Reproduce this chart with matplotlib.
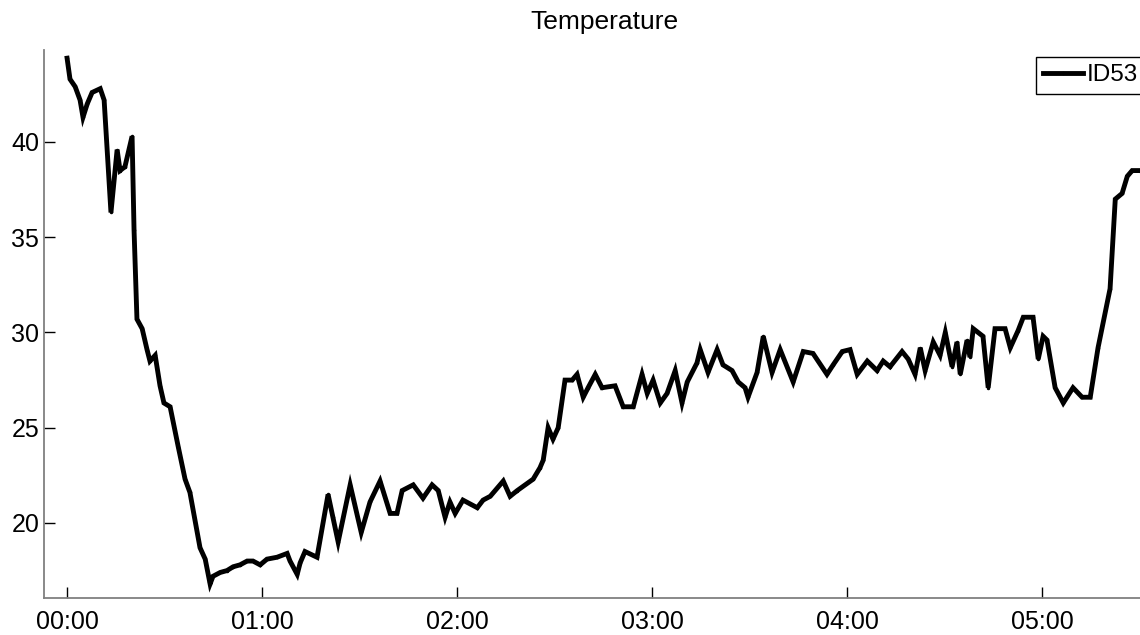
import matplotlib
matplotlib.use("Agg")
import matplotlib.pyplot as plt

plt.rcParams['font.family'] = ['Liberation Sans', 'DejaVu Sans']

# minutes since start, temperature readings
minutes = [0.0, 0.9, 2.5, 4.0, 4.9, 6.2, 7.7, 10.2, 11.4, 13.5, 15.4, 16.3, 17.8,
           20.0, 20.6, 21.5, 23.1, 24.6, 25.5, 27.1, 28.6, 29.8, 31.7, 34.2, 36.3,
           37.8, 40.9, 42.5, 44.0, 44.9, 47.1, 49.2, 51.1, 53.2, 55.4, 57.2, 59.4,
           61.5, 64.6, 67.7, 68.6, 70.8, 71.7, 73.2, 75.7, 76.9, 80.3, 81.8, 83.4,
           87.1, 90.5, 93.2, 96.3, 99.4, 101.5, 103.1, 106.5, 109.5, 112.3, 114.2,
           116.3, 117.8, 119.4, 121.8, 124.0, 126.2, 128.0, 130.2, 134.2, 136.3,
           138.5, 143.4, 145.5, 146.5, 148.0, 149.5, 151.1, 153.2, 155.4, 156.9,
           158.8, 160.3, 162.5, 164.6, 168.6, 171.1, 174.2, 176.9, 178.5, 180.3,
           182.5, 184.6, 187.1, 189.2, 190.8, 193.8, 194.8, 197.2, 200.0, 201.8,
           204.6, 206.5, 208.6, 209.5, 212.3, 214.2, 216.9, 219.4, 223.4, 226.5,
           229.5, 233.8, 235.7, 238.5, 240.9, 243.1, 246.2, 249.2, 251.1, 253.2,
           256.9, 258.8, 260.9, 262.5, 264.0, 266.5, 268.6, 270.2, 272.3, 273.8,
           274.8, 276.9, 277.8, 278.8, 281.8, 283.4, 285.5, 288.6, 290.2, 292.6,
           294.2, 297.2, 298.8, 300.3, 301.5, 304.0, 306.5, 309.5, 312.3, 314.8,
           317.2, 320.9, 322.5, 324.6, 326.2, 327.7, 330.2]
temps = [44.4, 43.3, 42.9, 42.2, 41.3, 42.0, 42.6, 42.8, 42.2, 36.3, 39.6, 38.5, 38.7,
         40.3, 35.4, 30.7, 30.2, 29.1, 28.5, 28.8, 27.2, 26.3, 26.1, 24.0, 22.3,
         21.6, 18.7, 18.1, 16.8, 17.2, 17.4, 17.5, 17.7, 17.8, 18.0, 18.0, 17.8,
         18.1, 18.2, 18.4, 18.0, 17.3, 17.9, 18.5, 18.3, 18.2, 21.5, 20.3, 19.0,
         22.0, 19.5, 21.1, 22.2, 20.5, 20.5, 21.7, 22.0, 21.3, 22.0, 21.7,
         20.3, 21.1, 20.5, 21.2, 21.0, 20.8, 21.2, 21.4, 22.2, 21.4,
         21.7, 22.3, 22.9, 23.3, 25.0, 24.4, 25.0, 27.5, 27.5, 27.8,
         26.6, 27.1, 27.8, 27.1, 27.2, 26.1, 26.1, 27.8, 26.8, 27.5,
         26.3, 26.8, 28.0, 26.3, 27.4, 28.4, 29.1, 27.9, 29.1, 28.3,
         28.0, 27.4, 27.1, 26.6, 27.9, 29.8, 27.9, 29.1, 27.4, 29.0,
         28.9, 27.8, 28.3, 29.0, 29.1, 27.8, 28.5, 28.0, 28.5, 28.2,
         29.0, 28.6, 27.8, 29.2, 28.0, 29.5, 28.8, 30.0, 28.2, 29.5,
         27.8, 29.6, 28.7, 30.2, 29.8, 27.1, 30.2, 30.2, 29.2, 30.1,
         30.8, 30.8, 28.6, 29.8, 29.6, 27.1, 26.3, 27.1, 26.6, 26.6,
         29.2, 32.3, 37.0, 37.3, 38.2, 38.5, 38.5]

tick_minutes = [0, 60, 120, 180, 240, 300]
tick_labels = ['00:00', '01:00', '02:00', '03:00', '04:00', '05:00']
y_ticks = [20, 25, 30, 35, 40]

fig = plt.figure(figsize=(11.4, 6.35), dpi=100)
ax = fig.add_axes([44 / 1140, 37 / 635, 1121 / 1140, 548 / 635])

ax.plot(minutes, temps, color='black', lw=3.5, marker='.', markersize=3,
        solid_joinstyle='miter', label='ID53')

ax.set_xlim(-7.1, 337.8)
ax.set_ylim(16.06, 44.83)
ax.set_xticks(tick_minutes)
ax.set_xticklabels(tick_labels)
ax.set_yticks(y_ticks)

for s in ['top', 'right']:
    ax.spines[s].set_visible(False)
for s in ['left', 'bottom']:
    ax.spines[s].set_color('#808080')
    ax.spines[s].set_linewidth(1.3)

ax.tick_params(axis='both', direction='in', length=8, width=1, color='black',
               labelsize=18)
ax.tick_params(axis='y', pad=3.5)
ax.tick_params(axis='x', pad=8.5)

ax.set_title('Temperature', fontsize=19, pad=15)

leg = ax.legend(loc='upper left', bbox_to_anchor=(1036 / 1140, 1 - 57 / 635),
                bbox_transform=fig.transFigure, borderaxespad=0, fontsize=17.5,
                handlelength=1.65, handletextpad=0.12, borderpad=0.3,
                fancybox=False, framealpha=1)
leg.get_frame().set_edgecolor('black')
leg.get_frame().set_linewidth(1)

fig.savefig('out.png', dpi=100)
